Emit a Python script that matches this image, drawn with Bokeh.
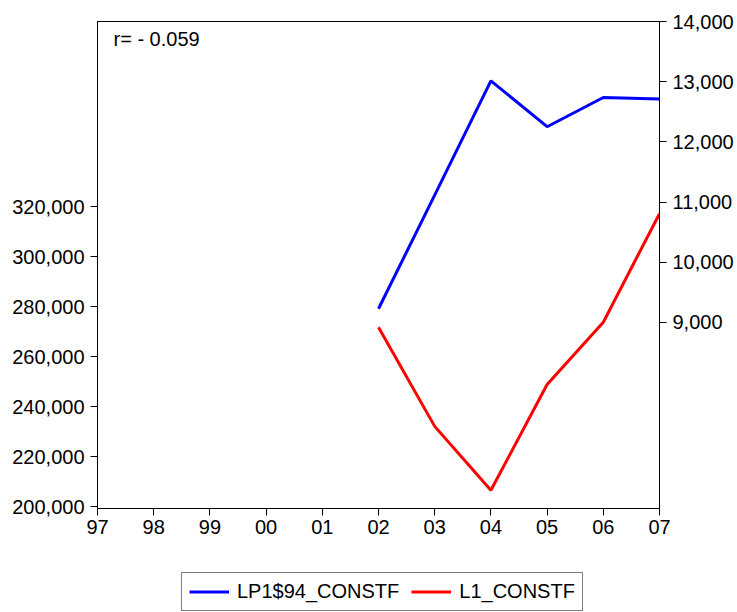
from bokeh.plotting import figure
from bokeh.layouts import column
from bokeh.models import (Range1d, LinearAxis, FixedTicker, NumeralTickFormatter,
                          Legend, LegendItem, Label)
from bokeh.embed import file_html
from bokeh.resources import INLINE

# Year axis (two-digit labels) and the two series
tick_years = [1997, 1998, 1999, 2000, 2001, 2002, 2003, 2004, 2005, 2006, 2007]
tick_labels = ["97", "98", "99", "00", "01", "02", "03", "04", "05", "06", "07"]
years = [2002, 2003, 2004, 2005, 2006, 2007]
lp1_94_constf = [9227, 11115, 13015, 12252, 12738, 12712]          # right scale
l1_constf = [271817, 232176, 206627, 248942, 273813, 317206]       # left scale
left_ticks = [200000, 220000, 240000, 260000, 280000, 300000, 320000]
right_ticks = [9000, 10000, 11000, 12000, 13000, 14000]
series_names = ["LP1$94_CONSTF", "L1_CONSTF"]
series_colors = ["#0000FF", "#FF0000"]
corr_text = "r= - 0.059"

FONT = "Liberation Sans"
FS = "20px"
W = 737
MAIN_H = 553
LEG_H = 612 - MAIN_H

p = figure(width=W, height=MAIN_H, output_backend="svg", toolbar_location=None,
           x_range=Range1d(1997, 2007), y_range=Range1d(199360, 393970),
           min_border_left=97, min_border_right=78, min_border_top=21,
           min_border_bottom=MAIN_H - 508)
p.extra_y_ranges = {"right": Range1d(5909, 14000)}

p.grid.visible = False
p.outline_line_color = "black"
p.outline_line_width = 1
p.background_fill_color = "white"
p.border_fill_color = "white"

def style_axis(ax):
    ax.axis_line_color = "black"
    ax.major_tick_line_color = "black"
    ax.major_tick_in = 0
    ax.major_tick_out = 7
    ax.minor_tick_line_color = None
    ax.major_label_text_font = FONT
    ax.major_label_text_font_size = FS
    ax.major_label_text_color = "black"
    ax.major_label_standoff = 6

xa = p.xaxis[0]
xa.ticker = FixedTicker(ticks=tick_years)
xa.major_label_overrides = {y: s for y, s in zip(tick_years, tick_labels)}
style_axis(xa)
xa.major_label_standoff = 4

ya = p.yaxis[0]
ya.ticker = FixedTicker(ticks=left_ticks)
ya.formatter = NumeralTickFormatter(format="0,0")
style_axis(ya)

ra = LinearAxis(y_range_name="right", ticker=FixedTicker(ticks=right_ticks),
                formatter=NumeralTickFormatter(format="0,0"))
style_axis(ra)
p.add_layout(ra, "right")

p.line(years, lp1_94_constf, y_range_name="right", line_color=series_colors[0],
       line_width=3)
p.line(years, l1_constf, line_color=series_colors[1], line_width=3)

p.add_layout(Label(x=1997, y=393970, x_offset=16, y_offset=-6, text=corr_text,
                   text_font=FONT, text_font_size=FS, text_baseline="top",
                   text_color="black"))

# Legend strip underneath the chart; its lines sit outside its own ranges,
# so only the legend itself shows
lg = figure(width=W, height=LEG_H, output_backend="svg", toolbar_location=None,
            min_border=0, x_range=Range1d(0, 1), y_range=Range1d(0, 1))
lg.axis.visible = False
lg.grid.visible = False
lg.outline_line_color = None
lg.border_fill_color = "white"
lg.background_fill_color = "white"
items = []
for name, col, vals in zip(series_names, series_colors, [lp1_94_constf, l1_constf]):
    r = lg.line(years, vals, line_color=col, line_width=3)
    items.append(LegendItem(label=name, renderers=[r]))

legend = Legend(items=items, orientation="horizontal", location=(84, 1),
                label_text_font=FONT, label_text_font_size=FS,
                label_text_color="black", glyph_width=40, glyph_height=21,
                label_height=21, label_standoff=8, spacing=12, padding=7,
                margin=0, border_line_color="black", border_line_width=1,
                background_fill_color="white", background_fill_alpha=1)
lg.add_layout(legend, "center")

layout = column(p, lg, spacing=0)
open("out.html", "w").write(file_html(layout, INLINE))
